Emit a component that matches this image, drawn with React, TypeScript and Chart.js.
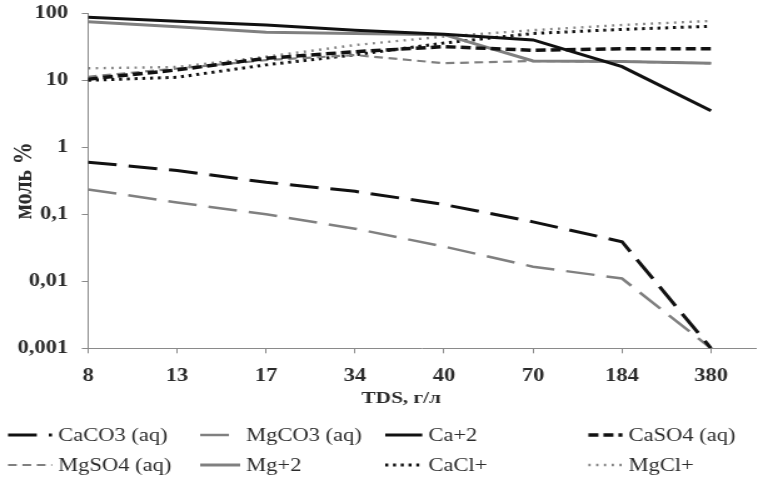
import React, { useEffect, useRef } from "react";
import { Chart, registerables } from "chart.js";

Chart.register(...registerables);

// Horizontal stretch of the drawing: the canvas is rendered narrower and
// widened by CSS so that text and marks get a wide look.
const STRETCH = 1.25;
const VIEW_W = 763;
const VIEW_H = 490;
const CANVAS_W = Math.round(VIEW_W / STRETCH);
const hx = (d: number) => d / STRETCH;

// TDS, g/l (categories)
const TDS_LABELS = ["8", "13", "17", "34", "40", "70", "184", "380"];

// mol % of each species
const CACO3 = [0.6, 0.45, 0.3, 0.22, 0.14, 0.077, 0.039, 0.001];
const MGCO3 = [0.235, 0.15, 0.1, 0.061, 0.033, 0.0165, 0.011, 0.001];
const CA2 = [87, 76, 67, 56, 48.5, 40, 16, 3.5];
const CASO4 = [10.4, 14.3, 21.3, 26.7, 31.8, 28, 29.6, 29.6];
const MGSO4 = [11.3, 15, 20, 23.8, 18, 19.4, 19, 18];
const MG2 = [75, 63, 52, 50, 48, 19.4, 19, 18];
const CACL = [10, 11.1, 17, 24, 36, 50, 57.5, 64];
const MGCL = [15.1, 15.8, 22.5, 33.6, 45, 56, 67, 77];

const Y_TICKS = [100, 10, 1, 0.1, 0.01, 0.001];
const Y_TICK_LABELS = ["100", "10", "1", "0,1", "0,01", "0,001"];

const SERIES_NAMES = [
  "CaCO3 (aq)",
  "MgCO3 (aq)",
  "Ca+2",
  "CaSO4 (aq)",
  "MgSO4 (aq)",
  "Mg+2",
  "CaCl+",
  "MgCl+",
];

const BLACK = "#111111";
const GRAY = "#808080";
const TEXT = "#2b2b2b";
const AXIS = "#8a8a8a";
const FONT = "'Liberation Serif', 'Times New Roman', serif";

const toPoints = (vals: number[]) => vals.map((y, i) => ({ x: i, y }));

// Legend laid out in four columns and two rows below the axis title
const legendPlugin = {
  id: "speciesLegend",
  afterDraw(chart: any) {
    const { ctx } = chart;
    ctx.save();

    // x axis title
    ctx.font = `bold 17px ${FONT}`;
    ctx.fillStyle = TEXT;
    ctx.textAlign = "center";
    ctx.textBaseline = "middle";
    ctx.fillText("TDS, г/л", hx(401), 399);

    const sampleX = [hx(8), hx(200), hx(385), hx(588)];
    const textX = [hx(58), hx(246), hx(428), hx(628)];
    const rowY = [435, 465];
    ctx.font = `18px ${FONT}`;
    ctx.textAlign = "left";
    chart.data.datasets.forEach((ds: any, i: number) => {
      const col = i % 4;
      const row = Math.floor(i / 4);
      const y = rowY[row];
      ctx.beginPath();
      ctx.strokeStyle = ds.borderColor;
      ctx.lineWidth = ds.borderWidth;
      ctx.setLineDash(ds.borderDash || []);
      ctx.lineCap = "butt";
      ctx.moveTo(sampleX[col], y);
      ctx.lineTo(textX[col] - hx(6), y);
      ctx.stroke();
      ctx.setLineDash([]);
      ctx.fillStyle = TEXT;
      ctx.fillText(ds.label, textX[col], y + 1);
    });
    ctx.restore();
  },
};

export default function App() {
  const canvasRef = useRef<HTMLCanvasElement | null>(null);

  useEffect(() => {
    document.body.style.margin = "0";
    document.body.style.overflow = "hidden";
    const canvas = canvasRef.current;
    if (!canvas) return;

    const styles = [
      { data: CACO3, color: BLACK, width: 3, dash: [23, 9.6] },
      { data: MGCO3, color: GRAY, width: 2.5, dash: [23, 9.6] },
      { data: CA2, color: BLACK, width: 3, dash: [] },
      { data: CASO4, color: BLACK, width: 3.5, dash: [8, 4] },
      { data: MGSO4, color: GRAY, width: 2.2, dash: [7, 4.5] },
      { data: MG2, color: GRAY, width: 3, dash: [] },
      { data: CACL, color: BLACK, width: 3, dash: [2.4, 3.8] },
      { data: MGCL, color: GRAY, width: 2.4, dash: [1.8, 4.4] },
    ];

    const chart = new Chart(canvas, {
      type: "line",
      data: {
        datasets: styles.map((s, i) => ({
          label: SERIES_NAMES[i],
          data: toPoints(s.data),
          borderColor: s.color,
          backgroundColor: s.color,
          borderWidth: s.width,
          borderDash: s.dash,
          pointRadius: 0,
          tension: 0,
          fill: false,
        })),
      },
      options: {
        animation: false,
        responsive: false,
        devicePixelRatio: 1,
        layout: {
          padding: { top: 13.3, right: CANVAS_W - hx(755), left: 0, bottom: 0 },
        },
        plugins: {
          legend: { display: false },
          tooltip: { enabled: false },
        },
        scales: {
          x: {
            type: "linear",
            min: 0,
            max: 7.5,
            afterBuildTicks: (scale: any) => {
              scale.ticks = TDS_LABELS.map((_, i) => ({ value: i }));
            },
            afterFit: (scale: any) => {
              scale.height = VIEW_H - 348.3;
              scale.paddingLeft = 0;
              scale.paddingRight = 0;
            },
            ticks: {
              autoSkip: false,
              maxRotation: 0,
              padding: 12,
              color: TEXT,
              font: { family: FONT, size: 18, weight: "bold" },
              callback: (v: any) => TDS_LABELS[Math.round(Number(v))] ?? "",
            },
            grid: {
              drawOnChartArea: false,
              drawTicks: true,
              tickLength: 5,
              color: AXIS,
            },
            border: { color: AXIS, width: 1 },
          },
          y: {
            type: "logarithmic",
            min: 0.001,
            max: 100,
            afterBuildTicks: (scale: any) => {
              scale.ticks = Y_TICKS.map((v) => ({ value: v }));
            },
            afterFit: (scale: any) => {
              scale.width = hx(88);
              scale.paddingTop = 0;
              scale.paddingBottom = 0;
            },
            ticks: {
              padding: 11,
              color: TEXT,
              font: { family: FONT, size: 18, weight: "bold" },
              callback: (v: any) => {
                const idx = Y_TICKS.findIndex((t) => Math.abs(t - Number(v)) < t * 1e-6);
                return idx >= 0 ? Y_TICK_LABELS[idx] : "";
              },
            },
            grid: {
              drawOnChartArea: false,
              drawTicks: true,
              tickLength: 5,
              color: AXIS,
            },
            border: { color: AXIS, width: 1 },
            title: {
              display: true,
              text: "моль %",
              color: TEXT,
              font: { family: FONT, size: 22, weight: "bold" },
              padding: { top: 6, bottom: 0 },
            },
          },
        },
      },
      plugins: [legendPlugin],
    });

    return () => chart.destroy();
  }, []);

  return (
    <canvas
      ref={canvasRef}
      width={CANVAS_W}
      height={VIEW_H}
      style={{ width: `${VIEW_W}px`, height: `${VIEW_H}px`, display: "block" }}
    />
  );
}
